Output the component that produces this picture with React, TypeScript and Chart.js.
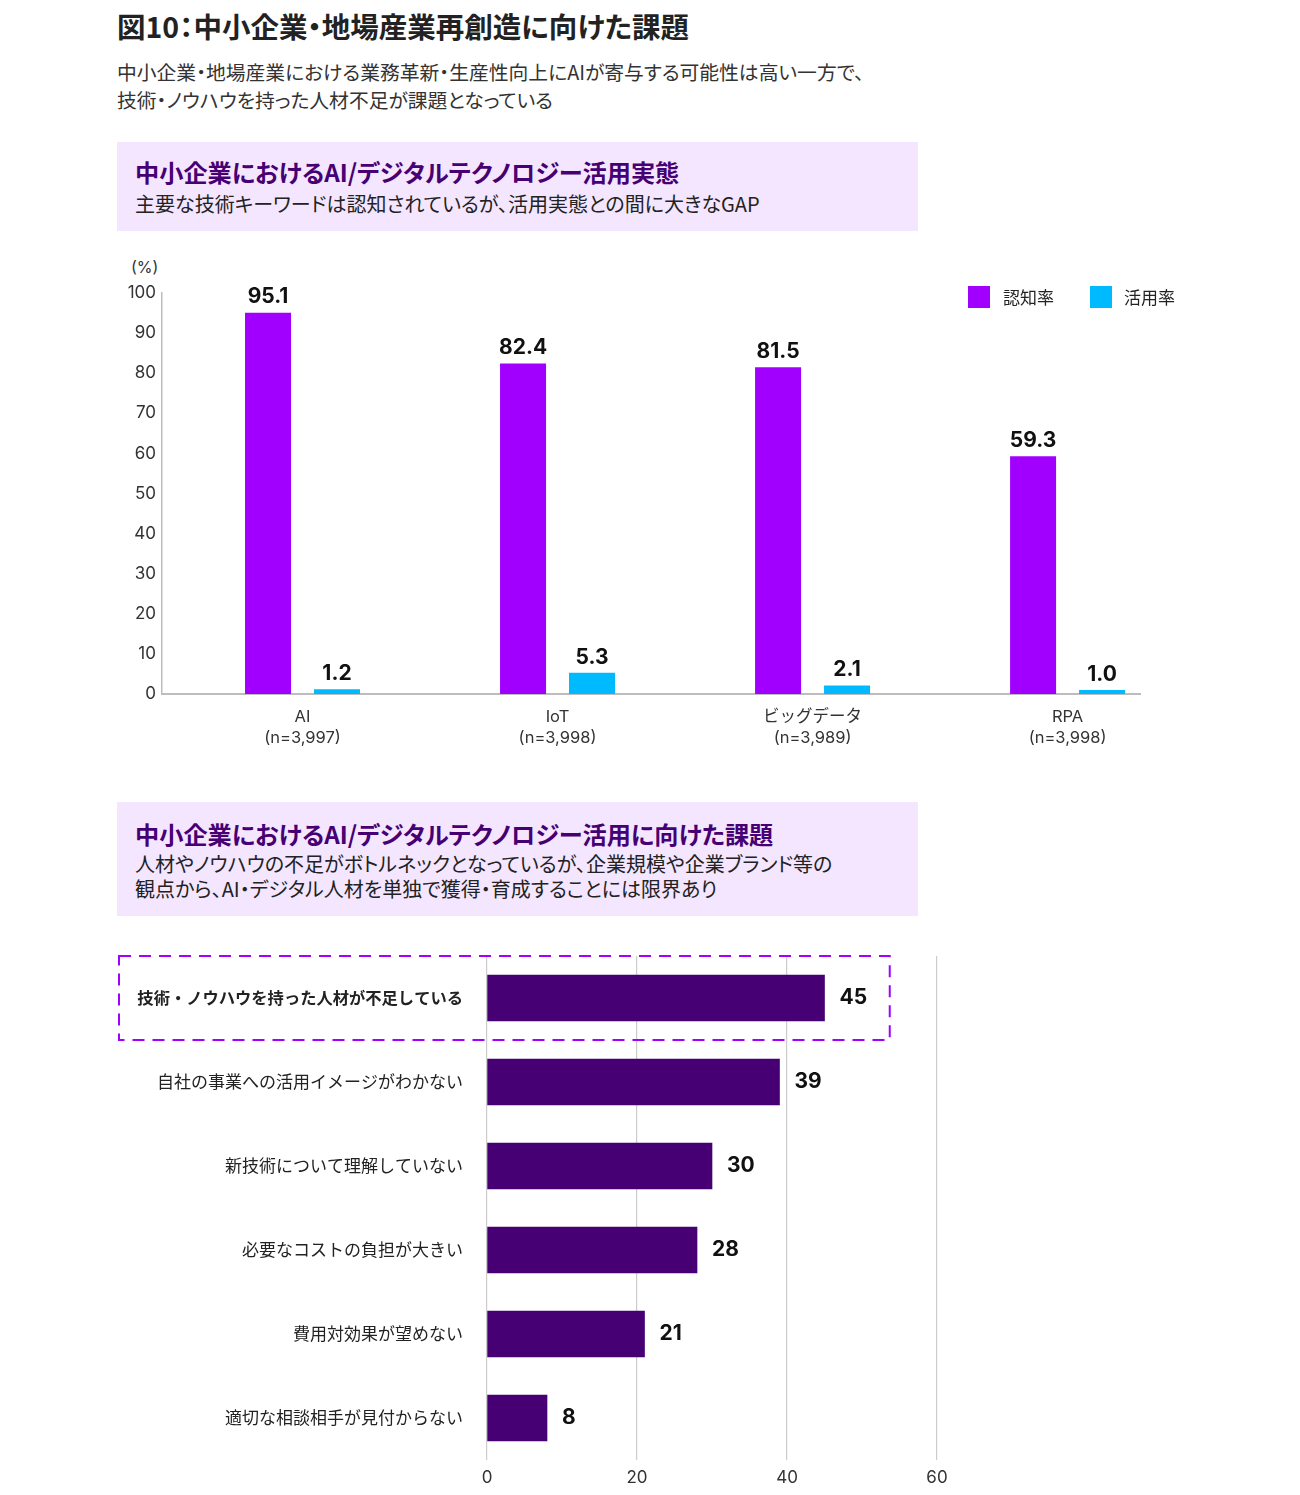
import React, { useEffect, useRef } from "react";
import { Chart, registerables } from "chart.js";

Chart.register(...registerables);

const FONT = "Inter, 'Noto Sans CJK JP', sans-serif";
const JP = "'Noto Sans CJK JP', sans-serif";

// ---- Top chart data ----
const techCategories = ["AI", "IoT", "ビッグデータ", "RPA"];
const techSamples = ["(n=3,997)", "(n=3,998)", "(n=3,989)", "(n=3,998)"];
const awarenessRate = [95.1, 82.4, 81.5, 59.3];
const utilizationRate = [1.2, 5.3, 2.1, 1.0];
const seriesNames = ["認知率", "活用率"];
const yTicksTop = [0, 10, 20, 30, 40, 50, 60, 70, 80, 90, 100];

// ---- Bottom chart data ----
const issueCategories = [
  "技術・ノウハウを持った人材が不足している",
  "自社の事業への活用イメージがわかない",
  "新技術について理解していない",
  "必要なコストの負担が大きい",
  "費用対効果が望めない",
  "適切な相談相手が見付からない",
];
const issueValues = [45, 39, 30, 28, 21, 8];
const xTicksBottom = [0, 20, 40, 60];

const PURPLE = "#A100FF";
const CYAN = "#00BAFF";
const DARK = "#460073";

const topLabelsPlugin = {
  id: "topLabels",
  afterDatasetsDraw(chart: any) {
    const ctx = chart.ctx;
    ctx.save();
    ctx.font = `bold 21px ${FONT}`;
    ctx.fillStyle = "#111";
    ctx.textAlign = "center";
    ctx.textBaseline = "bottom";
    chart.data.datasets.forEach((ds: any, di: number) => {
      const meta = chart.getDatasetMeta(di);
      meta.data.forEach((el: any, i: number) => {
        const v = ds.data[i].y;
        ctx.fillText(v.toFixed(1), el.x, el.y - 5);
      });
    });
    ctx.restore();
  },
};

const bottomLabelsPlugin = {
  id: "bottomLabels",
  afterDatasetsDraw(chart: any) {
    const ctx = chart.ctx;
    ctx.save();
    ctx.font = `bold 21px ${FONT}`;
    ctx.fillStyle = "#111";
    ctx.textAlign = "left";
    ctx.textBaseline = "middle";
    const meta = chart.getDatasetMeta(0);
    meta.data.forEach((el: any, i: number) => {
      ctx.fillText(String(chart.data.datasets[0].data[i]), el.x + 15, el.y);
    });
    // highlight box around first row
    const ys = chart.scales.y;
    const xs = chart.scales.x;
    const c0 = ys.getPixelForValue(0);
    const half = (ys.getPixelForValue(1) - c0) / 2;
    ctx.strokeStyle = PURPLE;
    ctx.lineWidth = 2;
    ctx.setLineDash([12, 8]);
    ctx.strokeRect(1, c0 - half, xs.getPixelForValue(53.7) - 1, half * 2);
    ctx.restore();
  },
};

function TopChart() {
  const ref = useRef<HTMLCanvasElement>(null);
  useEffect(() => {
    const chart = new Chart(ref.current!, {
      type: "bar",
      data: {
        datasets: [
          {
            label: seriesNames[0],
            data: awarenessRate.map((v, i) => ({ x: i, y: v })),
            backgroundColor: PURPLE,
          },
          {
            label: seriesNames[1],
            data: utilizationRate.map((v, i) => ({ x: i, y: v })),
            backgroundColor: CYAN,
          },
        ],
      },
      options: {
        animation: false,
        responsive: false,
        maintainAspectRatio: false,
        layout: { autoPadding: false, padding: { top: 43, right: 60, left: 0, bottom: 0 } },
        plugins: { legend: { display: false }, tooltip: { enabled: false } },
        datasets: { bar: { categoryPercentage: 0.541, barPercentage: 0.667 } },
        scales: {
          x: {
            type: "linear",
            offset: false,
            min: -0.551,
            max: 3.284,
            grid: { display: false, drawTicks: false, offset: false },
            border: { display: true, color: "#bdbdbd", width: 2 },
            afterBuildTicks: (s: any) => {
              s.ticks = techCategories.map((_, i) => ({ value: i }));
            },
            afterFit: (s: any) => {
              s.height = 66;
            },
            ticks: {
              padding: 12.5,
              autoSkip: false,
              maxRotation: 0,
              color: "#333",
              font: { family: FONT, size: 16.5, lineHeight: 1.27 },
              callback: (v: any) => [techCategories[v], techSamples[v]],
            },
          },
          y: {
            min: 0,
            max: 100,
            grid: { display: false, drawTicks: false },
            border: { display: true, color: "#bdbdbd", width: 1.5 },
            afterBuildTicks: (s: any) => {
              s.ticks = yTicksTop.map((v) => ({ value: v }));
            },
            afterFit: (s: any) => {
              s.width = 62;
            },
            ticks: {
              padding: 6,
              color: "#333",
              font: { family: FONT, size: 17 },
            },
          },
        },
      },
      plugins: [topLabelsPlugin],
    } as any);
    return () => chart.destroy();
  }, []);
  return <canvas ref={ref} width={1100} height={510} style={{ width: 1100, height: 510, display: "block" }} />;
}

function BottomChart() {
  const ref = useRef<HTMLCanvasElement>(null);
  useEffect(() => {
    const chart = new Chart(ref.current!, {
      type: "bar",
      data: {
        labels: issueCategories,
        datasets: [
          {
            data: issueValues,
            backgroundColor: DARK,
            barThickness: 46,
          },
        ],
      },
      options: {
        indexAxis: "y",
        animation: false,
        responsive: false,
        maintainAspectRatio: false,
        layout: { autoPadding: false, padding: { top: 16, right: 23, left: 0, bottom: 0 } },
        plugins: { legend: { display: false }, tooltip: { enabled: false } },
        scales: {
          x: {
            min: 0,
            max: 60,
            grid: { display: true, color: "#cccccc", lineWidth: 1.2, drawTicks: false },
            border: { display: false },
            afterBuildTicks: (s: any) => {
              s.ticks = xTicksBottom.map((v) => ({ value: v }));
            },
            afterFit: (s: any) => {
              s.height = 35;
              s.paddingLeft = 0;
              s.paddingRight = 0;
            },
            ticks: {
              padding: 8,
              color: "#333",
              font: { family: FONT, size: 17, lineHeight: 1.2 },
            },
          },
          y: {
            grid: { display: false, drawTicks: false },
            border: { display: false },
            afterFit: (s: any) => {
              s.width = 369;
              s.paddingTop = 0;
              s.paddingBottom = 0;
            },
            ticks: {
              padding: 24,
              color: "#222",
              font: (c: any) => ({
                family: JP,
                size: c.index === 0 ? 16.3 : 17,
                weight: c.index === 0 ? "bold" : "normal",
              }),
            },
          },
        },
      },
      plugins: [bottomLabelsPlugin],
    } as any);
    return () => chart.destroy();
  }, []);
  return <canvas ref={ref} width={842} height={555} style={{ width: 842, height: 555, display: "block" }} />;
}

const abs = (left: number, top: number, extra: React.CSSProperties = {}): React.CSSProperties => ({
  position: "absolute",
  left,
  top,
  ...extra,
});

export default function App() {
  useEffect(() => {
    document.body.style.margin = "0";
  }, []);
  const palt: React.CSSProperties = { fontFeatureSettings: '"palt"', whiteSpace: "nowrap" };
  return (
    <div style={{ position: "relative", width: 1300, height: 1495, background: "#fff", fontFamily: JP, overflow: "hidden" }}>
      <div style={abs(117, 6, { ...palt, fontSize: 28.5, fontWeight: 700, lineHeight: "40px", color: "#222" })}>
        図10：中小企業・地場産業再創造に向けた課題
      </div>
      <div style={abs(117, 58, { ...palt, fontSize: 19.8, lineHeight: "27.5px", color: "#333" })}>
        中小企業・地場産業における業務革新・生産性向上にAIが寄与する可能性は高い一方で、
        <br />
        技術・ノウハウを持った人材不足が課題となっている
      </div>

      <div style={abs(117, 142, { width: 801, height: 89, background: "#F4E6FE" })} />
      <div style={abs(135, 155, { ...palt, fontSize: 24.2, fontWeight: 700, lineHeight: "34px", color: DARK })}>
        中小企業におけるAI/デジタルテクノロジー活用実態
      </div>
      <div style={abs(135, 190, { ...palt, fontSize: 20, lineHeight: "28px", color: "#222" })}>
        主要な技術キーワードは認知されているが、活用実態との間に大きなGAP
      </div>

      <div style={abs(131, 256, { fontFamily: FONT, fontSize: 16, lineHeight: "22px", color: "#333" })}>(%)</div>

      <div style={abs(100, 250)}>
        <TopChart />
      </div>

      <div style={abs(968, 286, { display: "flex", alignItems: "center", fontFamily: JP, fontSize: 17, color: "#222", lineHeight: "22px" })}>
        <span style={{ width: 22, height: 22, background: PURPLE, display: "inline-block" }} />
        <span style={{ marginLeft: 13 }}>{seriesNames[0]}</span>
        <span style={{ width: 22, height: 22, background: CYAN, display: "inline-block", marginLeft: 36 }} />
        <span style={{ marginLeft: 12 }}>{seriesNames[1]}</span>
      </div>

      <div style={abs(117, 802, { width: 801, height: 114, background: "#F4E6FE" })} />
      <div style={abs(135, 817, { ...palt, fontSize: 24.2, fontWeight: 700, lineHeight: "34px", color: DARK })}>
        中小企業におけるAI/デジタルテクノロジー活用に向けた課題
      </div>
      <div style={abs(135, 852, { ...palt, fontSize: 20, lineHeight: "24.5px", color: "#222" })}>
        人材やノウハウの不足がボトルネックとなっているが、企業規模や企業ブランド等の
        <br />
        観点から、AI・デジタル人材を単独で獲得・育成することには限界あり
      </div>

      <div style={abs(118, 940)}>
        <BottomChart />
      </div>
    </div>
  );
}
